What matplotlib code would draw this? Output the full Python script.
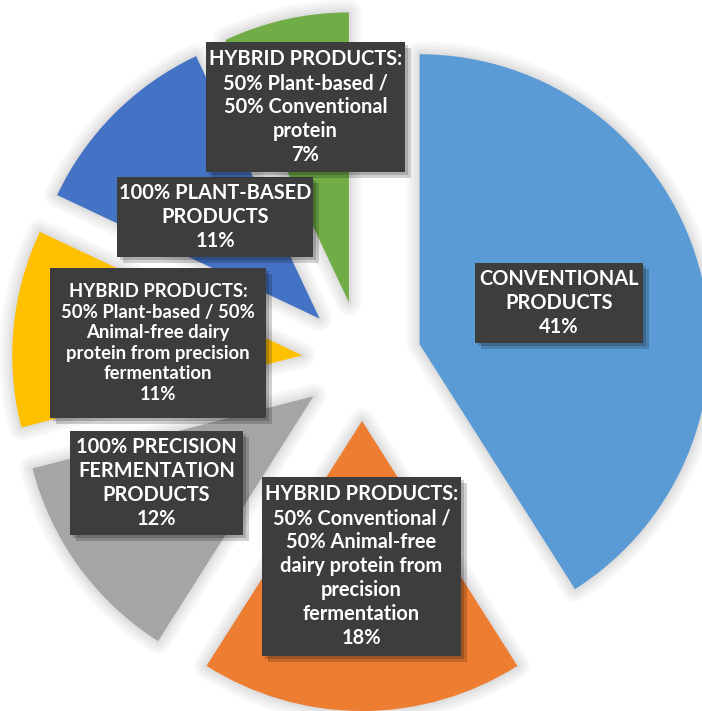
import matplotlib
matplotlib.use("Agg")
import matplotlib.pyplot as plt
import matplotlib.patheffects as pe
from matplotlib.patches import Rectangle

# data
labels = [
    "CONVENTIONAL\nPRODUCTS",
    "HYBRID PRODUCTS:\n50% Conventional /\n50% Animal-free\ndairy protein from\nprecision\nfermentation",
    "100% PRECISION\nFERMENTATION\nPRODUCTS",
    "HYBRID PRODUCTS:\n50% Plant-based / 50%\nAnimal-free dairy\nprotein from precision\nfermentation",
    "100% PLANT-BASED\nPRODUCTS",
    "HYBRID PRODUCTS:\n50% Plant-based /\n50% Conventional\nprotein",
]
shares = [41, 18, 12, 11, 11, 7]
colors = ["#5B9BD5", "#ED7D31", "#A5A5A5", "#FFC000", "#4472C4", "#70AD47"]

W, H = 702, 711

# label boxes in image pixels (x0, y0, x1, y1), same order as the slices
boxes = [
    (475, 263, 643, 343),
    (262, 477, 461, 656),
    (70, 431, 243, 535),
    (50, 268, 266, 418),
    (117, 177, 313, 257),
    (206, 42, 405, 172),
]
font_sizes = [14.4, 14.4, 14.4, 13.3, 14.4, 14.4]


def iy(y):
    # image y (top down) -> data y
    return H - y


fig = plt.figure(figsize=(W / 100, H / 100), dpi=100)
ax = fig.add_axes([0, 0, 1, 1])

radius = 290
# explode is in data units (pixels here)
wedges, _ = ax.pie(shares, colors=colors, startangle=90, counterclock=False,
                   explode=[60] * len(shares), radius=radius,
                   center=(362, iy(361)),
                   wedgeprops=dict(linewidth=0))

halo = [pe.Stroke(linewidth=w, foreground="black", alpha=0.03, joinstyle="round")
        for w in (18, 13, 8, 4)] + [pe.Normal()]
for w in wedges:
    w.set_path_effects(halo)

for (x0, y0, x1, y1), lab, share, fs in zip(boxes, labels, shares, font_sizes):
    rect = Rectangle((x0, iy(y1)), x1 - x0, y1 - y0, facecolor="#3D3D3D",
                     edgecolor="none", zorder=5)
    rect.set_path_effects([
        pe.SimplePatchShadow(offset=(4, -4), shadow_rgbFace="black", alpha=0.18),
        pe.SimplePatchShadow(offset=(2, -2), shadow_rgbFace="black", alpha=0.18),
        pe.Normal()])
    ax.add_patch(rect)
    ax.text((x0 + x1) / 2, iy((y0 + y1) / 2), f"{lab}\n{share}%",
            ha="center", va="center", multialignment="center",
            color="white", fontsize=fs, family="Lato", fontweight="bold",
            linespacing=1.25, zorder=6)

ax.set_xlim(0, W)
ax.set_ylim(0, H)
ax.set_axis_off()

fig.savefig("out.png", dpi=100)
